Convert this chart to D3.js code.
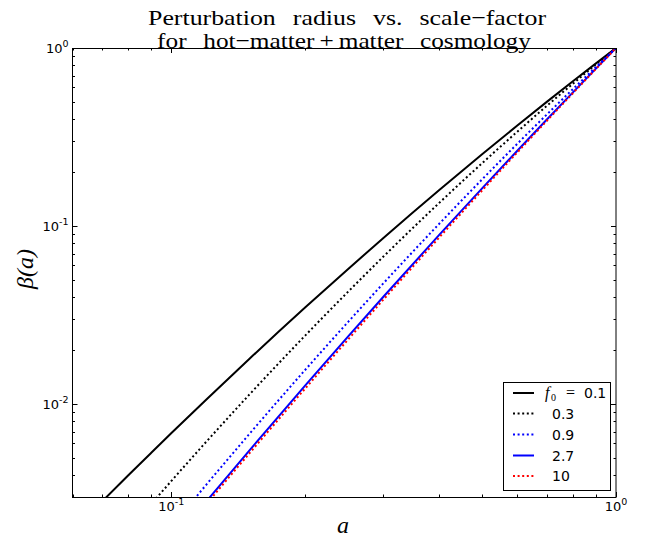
<!DOCTYPE html>
<html><head><meta charset="utf-8">
<script src="https://cdn.jsdelivr.net/npm/d3@7"></script>
<style>body{margin:0;background:#fff}svg{display:block}</style>
</head><body>
<script>
// ---- data ----
const aValues = [0.06,0.07,0.08,0.09,0.1,0.12,0.15,0.2,0.25,0.3,0.4,0.5,0.6,0.7,0.8,0.9,1.0];
const betaF01 = [1.924e-3,2.839e-3,3.960e-3,5.288e-3,6.839e-3,1.060e-2,1.795e-2,3.478e-2,5.737e-2,8.566e-2,0.1588,0.2529,0.3670,0.4995,0.6501,0.8172,1];
const betaF03 = [8.25e-4,1.308e-3,1.937e-3,2.724e-3,3.681e-3,6.141e-3,1.131e-2,2.419e-2,4.277e-2,6.730e-2,0.1344,0.2252,0.3387,0.4742,0.6302,0.8059,1];
const betaF09 = [4.167e-4,6.780e-4,1.028e-3,1.477e-3,2.037e-3,3.524e-3,6.797e-3,1.551e-2,2.893e-2,4.764e-2,0.1025,0.1827,0.2897,0.4244,0.5875,0.7790,1];
const betaF27 = [3.417e-4,5.515e-4,8.320e-4,1.192e-3,1.641e-3,2.836e-3,5.490e-3,1.267e-2,2.396e-2,4.003e-2,8.876e-2,0.1626,0.2647,0.3975,0.5632,0.7633,1];
const betaF10 = [3.371e-4,5.410e-4,8.127e-4,1.160e-3,1.592e-3,2.742e-3,5.290e-3,1.219e-2,2.305e-2,3.858e-2,8.594e-2,0.1583,0.2592,0.3913,0.5573,0.7594,1];
const seriesLabels = ["0.1","0.3","0.9","2.7","10"];
const seriesColors = ["#000000","#000000","#0000ff","#0000ff","#ff0000"];
const seriesDotted = [false,true,true,false,true];
const xTickValues = [0.1, 1];
const yTickValues = [0.01, 0.1, 1];
const xDomain = [0.06, 1];
const yDomain = [0.003, 1];
const titleLines = ["Perturbation radius vs. scale\u2212factor", "for hot\u2212matter\u2009+\u2009matter cosmology"];

const W = 646, H = 541;
const m = {left:72.5, right:W-616, top:48, bottom:H-497};
const svg = d3.select("body").append("svg").attr("width",W).attr("height",H);
const x = d3.scaleLog().domain(xDomain).range([m.left, W-m.right]);
const y = d3.scaleLog().domain(yDomain).range([H-m.bottom, m.top]);

svg.append("clipPath").attr("id","clip").append("rect")
  .attr("x",m.left).attr("y",m.top).attr("width",W-m.left-m.right).attr("height",H-m.top-m.bottom);

const allSeries = [betaF01,betaF03,betaF09,betaF27,betaF10];
const line = d3.line().x(d=>x(d[0])).y(d=>y(d[1])).curve(d3.curveMonotoneX);
const g = svg.append("g").attr("clip-path","url(#clip)");
allSeries.forEach((vals,i)=>{
  g.append("path").datum(aValues.map((a,j)=>[a,vals[j]]))
    .attr("d",line).attr("fill","none")
    .attr("stroke",seriesColors[i]).attr("stroke-width",2)
    .attr("stroke-dasharray",seriesDotted[i]?"2,2.6":null);
});

// ticks
function minorTicks(dom){
  const out=[];
  for(let e=-4;e<=1;e++){for(let k=1;k<=9;k++){const v=k*Math.pow(10,e); if(v>=dom[0]*0.999&&v<=dom[1]*1.001) out.push(v);} }
  return out;
}
const xt = minorTicks(xDomain), yt = minorTicks(yDomain);
const isMajor = v => Math.abs(Math.log10(v)-Math.round(Math.log10(v)))<1e-6;
const tk = svg.append("g").attr("stroke","#000").attr("stroke-width",1);
xt.forEach(v=>{
  const L = isMajor(v)?5:2.5, px=Math.round(x(v))+0.5;
  tk.append("line").attr("x1",px).attr("x2",px).attr("y1",H-m.bottom).attr("y2",H-m.bottom-L);
  tk.append("line").attr("x1",px).attr("x2",px).attr("y1",m.top).attr("y2",m.top+L);
});
yt.forEach(v=>{
  const L = isMajor(v)?5:2.5, py=Math.round(y(v))+0.5;
  tk.append("line").attr("y1",py).attr("y2",py).attr("x1",m.left).attr("x2",m.left+L);
  tk.append("line").attr("y1",py).attr("y2",py).attr("x1",W-m.right).attr("x2",W-m.right-L);
});
svg.append("rect").attr("x",m.left).attr("y",m.top+0.5).attr("width",W-m.left-m.right).attr("height",H-m.top-m.bottom)
  .attr("fill","none").attr("stroke","#000").attr("stroke-width",1);

// tick labels
const font = "'DejaVu Sans', sans-serif";
function expLabel(sel, v){
  const e = Math.round(Math.log10(v));
  sel.append("tspan").text("10");
  sel.append("tspan").attr("dy",-6).attr("font-size",9.5).text(String(e));
}
xTickValues.forEach(v=>{
  const t = svg.append("text").attr("x",x(v)).attr("y",511).attr("text-anchor","middle")
    .attr("font-family",font).attr("font-size",13);
  expLabel(t,v);
});
yTickValues.forEach(v=>{
  const t = svg.append("text").attr("x",m.left-4).attr("y",y(v)+5).attr("text-anchor","end")
    .attr("font-family",font).attr("font-size",13);
  expLabel(t,v);
});

// title: horizontally stretched serif with wide word gaps (mathtext look)
const serif = "'Liberation Serif','DejaVu Serif',serif";
const titleSpec = [{cx:347, y:25, w:398}, {cx:344, y:48, w:374}];
titleLines.forEach((txt,i)=>{
  const gap = 9;
  const t = svg.append("text").attr("x",0).attr("y",0).attr("text-anchor","middle")
    .attr("font-family",serif).attr("font-size",22).text(txt);
  const len = t.node().getComputedTextLength();
  const nSp = (txt.match(/ /g)||[]).length;
  const s = titleSpec[i].w/(len+gap*nSp);
  t.attr("word-spacing", gap)
   .attr("transform",`translate(${titleSpec[i].cx},${titleSpec[i].y}) scale(${s},1)`);
});

// axis labels
svg.append("text").attr("x",343).attr("y",533).attr("text-anchor","middle")
  .attr("font-family",serif).attr("font-style","italic").attr("font-size",24).text("a");
svg.append("text").attr("transform","translate(33,269) rotate(-90)").attr("text-anchor","middle")
  .attr("font-family",serif).attr("font-style","italic").attr("font-size",24).text("\u03b2(a)");

// legend
const lg = svg.append("g");
lg.append("rect").attr("x",503.5).attr("y",382.5).attr("width",107).attr("height",108)
  .attr("fill","#fff").attr("stroke","#000").attr("stroke-width",1);
const rowY = [393,413.5,434.5,455.5,476];
seriesLabels.forEach((lab,i)=>{
  lg.append("line").attr("x1",513).attr("x2",534).attr("y1",rowY[i]).attr("y2",rowY[i])
    .attr("stroke",seriesColors[i]).attr("stroke-width",2)
    .attr("stroke-dasharray",seriesDotted[i]?"2,2.6":null);
  if(i===0){
    lg.append("text").attr("x",545).attr("y",rowY[i]+5).attr("font-family",serif).attr("font-style","italic")
      .attr("font-size",16).text("f");
    lg.append("text").attr("x",551).attr("y",rowY[i]+8).attr("font-family",serif).attr("font-size",10).text("0");
    lg.append("text").attr("x",566).attr("y",rowY[i]+5).attr("font-family",serif).attr("font-size",16).text("=");
    lg.append("text").attr("x",584).attr("y",rowY[i]+5).attr("font-family",font).attr("font-size",14).text(lab);
  } else {
    lg.append("text").attr("x",552).attr("y",rowY[i]+5).attr("font-family",font).attr("font-size",14).text(lab);
  }
});
</script>
</body></html>
